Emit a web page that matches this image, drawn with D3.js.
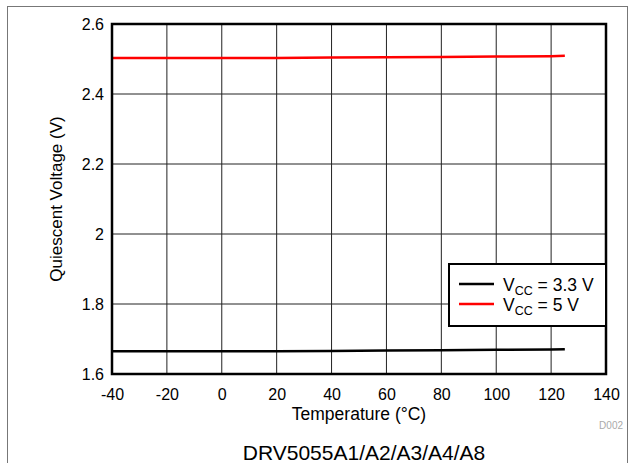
<!DOCTYPE html>
<html>
<head>
<meta charset="utf-8">
<script src="https://cdn.jsdelivr.net/npm/d3@7"></script>
<style>
  body { margin: 0; background: #fff; }
  svg { font-family: "Liberation Sans", Arial, sans-serif; }
</style>
</head>
<body>
<div id="chart-area"></div>
<script>
const width = 634, height = 463;
const margin = ({top: 24, right: 28, bottom: 89, left: 112});

// Data
const temps = [-40, -20, 0, 20, 40, 60, 80, 100, 120, 125];
const vcc33 = [1.665, 1.665, 1.665, 1.665, 1.666, 1.667, 1.668, 1.669, 1.670, 1.671];
const vcc5 = [2.503, 2.503, 2.503, 2.503, 2.504, 2.505, 2.506, 2.507, 2.508, 2.509];
const xTicks = [-40, -20, 0, 20, 40, 60, 80, 100, 120, 140];
const yTicks = [1.6, 1.8, 2, 2.2, 2.4, 2.6];
const seriesNames = ["3.3 V", "5 V"];
const seriesColors = ["#000000", "#ff0000"];

const series = [
    {name: seriesNames[0], color: seriesColors[0], values: vcc33},
    {name: seriesNames[1], color: seriesColors[1], values: vcc5}
];

const x = d3.scaleLinear()
    .domain([-40, 140])
    .range([margin.left, width - margin.right]);

const y = d3.scaleLinear()
    .domain([1.6, 2.6])
    .range([height - margin.bottom, margin.top]);

const svg = d3.select("#chart-area").append("svg")
    .attr("width", width)
    .attr("height", height);

// outer frame
svg.append("rect")
    .attr("x", 7.5).attr("y", 6.5)
    .attr("width", 620).attr("height", 480)
    .attr("fill", "none")
    .attr("stroke", "#777")
    .attr("stroke-width", 1);

// grid
svg.append("g")
    .selectAll("line")
    .data(xTicks.slice(1, -1))
    .enter().append("line")
    .attr("x1", d => x(d)).attr("x2", d => x(d))
    .attr("y1", y(1.6)).attr("y2", y(2.6))
    .attr("stroke", "#222")
    .attr("stroke-width", 1);

svg.append("g")
    .selectAll("line")
    .data(yTicks.slice(1, -1))
    .enter().append("line")
    .attr("x1", x(-40)).attr("x2", x(140))
    .attr("y1", d => y(d)).attr("y2", d => y(d))
    .attr("stroke", "#222")
    .attr("stroke-width", 1);

// axes (labels only, the frame is drawn below)
const xAxis = (g) => g
    .attr("transform", `translate(0,${height - margin.bottom})`)
    .call(d3.axisBottom(x).tickValues(xTicks).tickSize(0).tickPadding(15).tickFormat(d => String(d)))
    .call(g => g.select(".domain").remove())
    .call(g => g.selectAll("text").attr("fill", "#000").style("font-size", "16px")
        .style("font-family", "Liberation Sans, Arial, sans-serif"));

const yAxis = (g) => g
    .attr("transform", `translate(${margin.left},0)`)
    .call(d3.axisLeft(y).tickValues(yTicks).tickSize(0).tickPadding(8).tickFormat(d => String(d)))
    .call(g => g.select(".domain").remove())
    .call(g => g.selectAll("text").attr("fill", "#000").style("font-size", "16px")
        .style("font-family", "Liberation Sans, Arial, sans-serif"));

svg.append("g").call(xAxis);
svg.append("g").call(yAxis);

// series lines
const line = d3.line()
    .x((d, i) => x(temps[i]))
    .y(d => y(d));

svg.append("g")
    .selectAll("path")
    .data(series)
    .enter().append("path")
    .attr("d", d => line(d.values))
    .attr("fill", "none")
    .attr("stroke", d => d.color)
    .attr("stroke-width", 2.5);

// plot frame
svg.append("rect")
    .attr("x", x(-40)).attr("y", y(2.6))
    .attr("width", x(140) - x(-40))
    .attr("height", y(1.6) - y(2.6))
    .attr("fill", "none")
    .attr("stroke", "#000")
    .attr("stroke-width", 2.5);

// axis titles
svg.append("text")
    .attr("transform", `translate(62,${(y(1.6) + y(2.6)) / 2}) rotate(-90)`)
    .attr("text-anchor", "middle")
    .style("font-size", "17px")
    .text("Quiescent Voltage (V)");

svg.append("text")
    .attr("x", (x(-40) + x(140)) / 2)
    .attr("y", 420)
    .attr("text-anchor", "middle")
    .style("font-size", "17.5px")
    .text("Temperature (°C)");

svg.append("text")
    .attr("x", 364)
    .attr("y", 460)
    .attr("text-anchor", "middle")
    .style("font-size", "21px")
    .text("DRV5055A1/A2/A3/A4/A8");

svg.append("text")
    .attr("x", 623)
    .attr("y", 429)
    .attr("text-anchor", "end")
    .attr("fill", "#aaa")
    .style("font-size", "10px")
    .text("D002");

// legend
const legend = svg.append("g").attr("transform", "translate(449,264)");

legend.append("rect")
    .attr("width", 157).attr("height", 62)
    .attr("fill", "#fff")
    .attr("stroke", "#000")
    .attr("stroke-width", 2);

const item = legend.selectAll("g.item")
    .data(series)
    .enter().append("g")
    .attr("class", "item")
    .attr("transform", (d, i) => `translate(0,${20 + i * 20})`);

item.append("line")
    .attr("x1", 10).attr("x2", 45)
    .attr("stroke", d => d.color)
    .attr("stroke-width", 2.5);

const label = item.append("text")
    .attr("x", 54)
    .attr("y", 7)
    .style("font-size", "17.5px");

label.append("tspan").text("V");
label.append("tspan").attr("dy", 4).style("font-size", "12.5px").text("CC");
label.append("tspan").attr("dy", -4).text(d => " = " + d.name);
</script>
</body>
</html>
